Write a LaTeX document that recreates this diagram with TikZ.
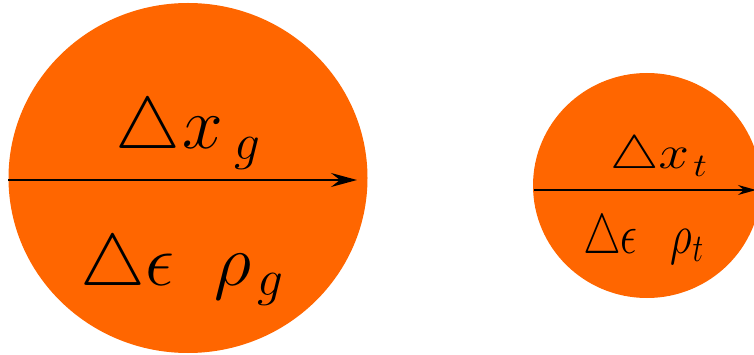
\RequirePackage{fix-cm}
\documentclass[tikz,border=0pt]{standalone}
\usepackage{amsmath,amssymb}
\usepackage{xcolor}
\usetikzlibrary{arrows.meta,shapes.geometric,positioning}

\definecolor{droporange}{RGB}{255,102,0}

\begin{document}
\begin{tikzpicture}[x=1pt,y=-1pt,
    drop/.style={ellipse,fill=droporange,draw=none,inner sep=0pt},
    lbl/.style={inner sep=0pt,anchor=base west},
    flow/.style={line width=1.4pt,-{Stealth[length=26pt,width=14pt,inset=9pt]}}]
    \useasboundingbox (0,0) rectangle (754,355);
    % the two drops
    \node[drop,minimum width=359pt,minimum height=350pt] (circg) at (188,178) {};
    \node[drop,minimum width=228pt,minimum height=225pt] (circt) at (647,185.5) {};

    % flow lines through the drops
    \coordinate (ing) at (8,180);
    \coordinate (outg) at (357,180);
    \coordinate (int) at (534,190);
    \coordinate (outt) at (756,190);
    \draw[flow] (ing) -- (outg);
    \draw[flow,-{Stealth[length=18pt,width=10pt,inset=6pt]}] (int) -- (outt);

    % labels
    \node[lbl,font=\fontsize{73}{80}\selectfont] (dxg) at (115,149) {$\triangle\mkern0.5mu x_{\mkern4mu g}$};
    \node[lbl,font=\fontsize{73}{80}\selectfont] (rhog) at (80,285) {$\triangle\epsilon\hspace{0.56em}\rho_{\mkern2mu\scriptstyle g}$};
    \node[lbl,font=\fontsize{47}{52}\selectfont,xscale=1.16] (dxt) at (610,169) {$\triangle x_{\mkern2mu t}$};
    \node[lbl,font=\fontsize{56}{60}\selectfont,xscale=0.76] (rhot) at (583,253) {$\triangle\epsilon\hspace{0.78em}\rho_t$};
\end{tikzpicture}
\end{document}
